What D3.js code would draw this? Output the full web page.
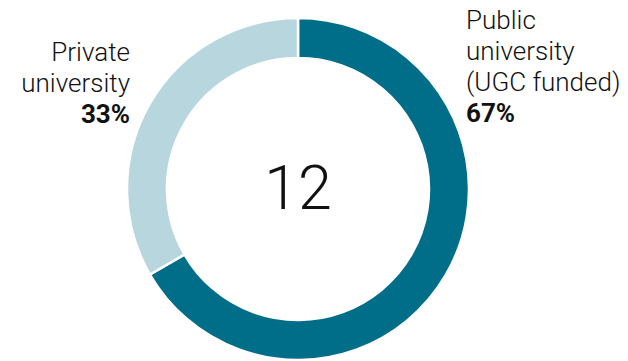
<!DOCTYPE html>
<html>
<head>
<meta charset="utf-8">
<script src="https://cdn.jsdelivr.net/npm/d3@7"></script>
<style>
  body { margin: 0; background: #fff; }
  svg text { font-family: Roboto, "Noto Sans", sans-serif; fill: #111; }
</style>
</head>
<body>
<div id="chart"></div>
<script>
// Data
var categories = ["Public university (UGC funded)", "Private university"];
var counts = [8, 4];
var percentLabels = ["67%", "33%"];
var labelLines = [["Public", "university", "(UGC funded)"], ["Private", "university"]];
var colors = ["#006e89", "#b7d6de"];
var total = d3.sum(counts);

var width = 628, height = 361;
var cx = 298, cy = 189;
var outerR = 171, innerR = 131;

var svg = d3.select("#chart").append("svg")
    .attr("width", width).attr("height", height);

var g = svg.append("g").attr("transform", "translate(" + cx + "," + cy + ")");

var pie = d3.pie().sort(null).value(function(d) { return d; });
var arc = d3.arc().innerRadius(innerR).outerRadius(outerR);

g.selectAll("path.slice")
    .data(pie(counts))
    .enter().append("path")
    .attr("class", "slice")
    .attr("d", arc)
    .attr("fill", function(d, i) { return colors[i]; })
    .attr("stroke", "#fff")
    .attr("stroke-width", 2.5);

// Centre total
g.append("text")
    .attr("text-anchor", "middle")
    .attr("y", 20)
    .attr("font-size", 61)
    .attr("font-weight", 300)
    .text(total);

// Labels
var lineH = 31;
var labelPos = [
    { x: 466, y: 29, anchor: "start" },
    { x: 130, y: 61, anchor: "end" }
];

labelPos.forEach(function(p, i) {
    var t = svg.append("text")
        .attr("x", p.x).attr("y", p.y)
        .attr("text-anchor", p.anchor)
        .attr("font-size", 26)
        .attr("font-weight", 300);
    labelLines[i].forEach(function(line, j) {
        t.append("tspan").attr("x", p.x).attr("dy", j === 0 ? 0 : lineH).text(line);
    });
    t.append("tspan").attr("x", p.x).attr("dy", lineH)
        .attr("font-weight", "bold").text(percentLabels[i]);
});
</script>
</body>
</html>
